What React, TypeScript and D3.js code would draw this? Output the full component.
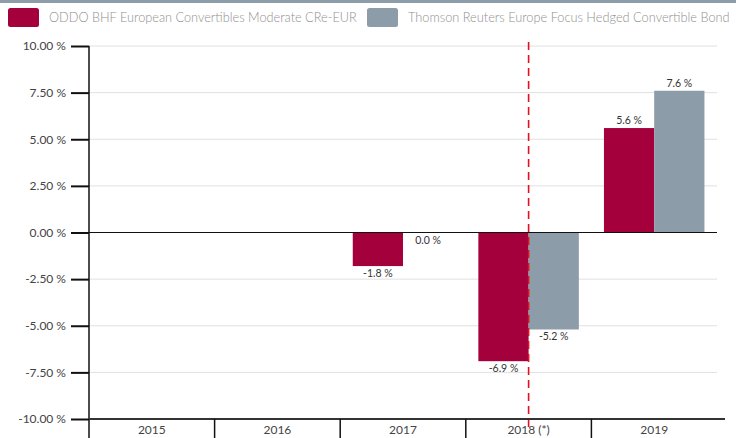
import React, { useEffect, useRef } from 'react';
import * as d3 from 'd3';

const years = ['2015', '2016', '2017', '2018 (*)', '2019'];
const fundValues: (number | null)[] = [null, null, -1.8, -6.9, 5.6];
const indexValues: (number | null)[] = [null, null, 0.0, -5.2, 7.6];
const seriesNames = ['ODDO BHF European Convertibles Moderate CRe-EUR', 'Thomson Reuters Europe Focus Hedged Convertible Bond'];
const seriesColors = ['#a3003c', '#8c9ca9'];
const yTicks = [10, 7.5, 5, 2.5, 0, -2.5, -5, -7.5, -10];
const markerYear = '2018 (*)';

const FONT = "Lato, 'Open Sans', sans-serif";

const App = () => {
  const ref = useRef<SVGSVGElement>(null);

  useEffect(() => {
    if (!ref.current) return;
    const svg = d3.select(ref.current);
    svg.selectAll('*').remove();

    const left = 89, right = 717, top = 46, bottom = 419;

    const x = d3.scaleBand().domain(years).range([left, right]);
    const xs = d3.scaleBand().domain(['0', '1']).range([0, x.bandwidth()]).paddingOuter(0.25);
    const y = d3.scaleLinear().domain([-10, 10]).range([bottom, top]);

    // top band
    svg.append('rect').attr('x', 0).attr('y', 0).attr('width', 736).attr('height', 3).attr('fill', '#8c9ca9');

    // legend (condensed by horizontal scaling to match the narrow source font)
    const lg = svg.append('g');
    const legendX = [8, 367];
    const legendW = [308, 322];
    seriesNames.forEach((n, i) => {
      lg.append('rect').attr('x', legendX[i]).attr('y', 8).attr('width', 31).attr('height', 19).attr('rx', 2.5).attr('fill', seriesColors[i]);
      const t = lg.append('text').attr('font-family', FONT).attr('font-size', 14)
        .attr('font-weight', 300).attr('fill', '#8f8f8f').text(n);
      const natural = (t.node() as SVGTextElement).getComputedTextLength() || legendW[i];
      t.attr('transform', `translate(${legendX[i] + 41},22) scale(${Math.min(1, legendW[i] / natural)},1)`);
    });

    // grid
    svg.append('g').selectAll('line').data(yTicks).join('line')
      .attr('x1', left).attr('x2', right).attr('y1', d => y(d)).attr('y2', d => y(d))
      .attr('stroke', '#e0e0e0').attr('stroke-width', 1);

    // bars
    const series = [fundValues, indexValues];
    series.forEach((vals, si) => {
      const g = svg.append('g');
      const data = years.map((yr, i) => ({ yr, v: vals[i] })).filter(d => d.v !== null) as { yr: string; v: number }[];
      g.selectAll('rect').data(data).join('rect')
        .attr('x', d => (x(d.yr) as number) + (xs(String(si)) as number))
        .attr('width', xs.bandwidth())
        .attr('y', d => y(Math.max(0, d.v)))
        .attr('height', d => Math.abs(y(d.v) - y(0)))
        .attr('fill', seriesColors[si]);
      g.selectAll('text').data(data).join('text')
        .attr('x', d => (x(d.yr) as number) + (xs(String(si)) as number) + xs.bandwidth() / 2)
        .attr('y', d => d.v > 0 ? y(d.v) - 4 : y(d.v) + 11)
        .attr('text-anchor', 'middle')
        .attr('font-family', FONT).attr('font-size', 10.5).attr('fill', '#333')
        .text(d => `${d.v.toFixed(1)} %`);
    });

    // zero line
    svg.append('line').attr('x1', left).attr('x2', right).attr('y1', y(0)).attr('y2', y(0))
      .attr('stroke', '#111').attr('stroke-width', 1.2);

    // marker dashed line
    const mx = (x(markerYear) as number) + x.bandwidth() / 2;
    svg.append('line').attr('x1', mx).attr('x2', mx).attr('y1', 42).attr('y2', 432)
      .attr('stroke', '#e3101e').attr('stroke-width', 1.6).attr('stroke-dasharray', '8,5');

    // y axis
    const yAxis = svg.append('g').attr('transform', `translate(${left},0)`)
      .call(d3.axisLeft(y).tickValues(yTicks).tickSize(18).tickPadding(5).tickFormat(d => `${(d as number).toFixed(2)} %`));
    yAxis.select('.domain').remove();
    yAxis.selectAll('.tick line').attr('stroke', '#111').attr('stroke-width', 2);
    yAxis.selectAll('.tick text').attr('font-family', FONT).attr('font-size', 12).attr('fill', '#444');
    svg.append('line').attr('x1', left).attr('x2', left).attr('y1', top).attr('y2', 438)
      .attr('stroke', '#111').attr('stroke-width', 1.5);

    // x axis
    svg.append('line').attr('x1', left).attr('x2', right + 8).attr('y1', bottom).attr('y2', bottom)
      .attr('stroke', '#333').attr('stroke-width', 2);
    const xg = svg.append('g');
    xg.selectAll('line').data(years.slice(1)).join('line')
      .attr('x1', d => x(d) as number).attr('x2', d => x(d) as number)
      .attr('y1', bottom).attr('y2', 438).attr('stroke', '#111').attr('stroke-width', 1.5);
    xg.selectAll('text').data(years).join('text')
      .attr('x', d => (x(d) as number) + x.bandwidth() / 2).attr('y', 434)
      .attr('text-anchor', 'middle').attr('font-family', FONT).attr('font-size', 12).attr('fill', '#444')
      .text(d => d);
  }, []);

  return <svg ref={ref} width={736} height={438} style={{ position: 'absolute', left: 0, top: 0, background: '#fff' }} />;
};

export default App;
